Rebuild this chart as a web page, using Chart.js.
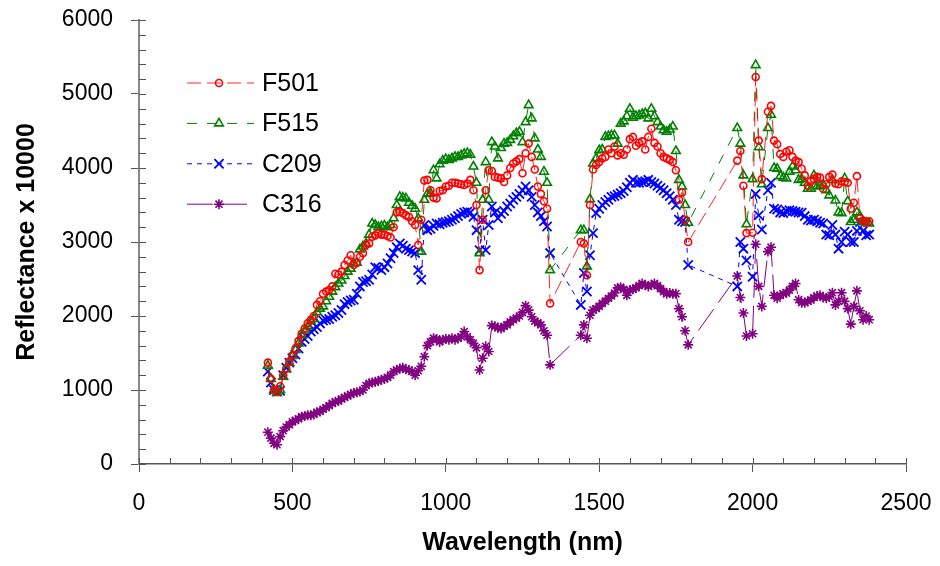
<!DOCTYPE html>
<html>
<head>
<meta charset="utf-8">
<script src="https://cdn.jsdelivr.net/npm/chart.js@4/dist/chart.umd.min.js"></script>
<style>
  html, body { margin: 0; padding: 0; background: #fff; }
  #wrap { width: 940px; height: 566px; }
</style>
</head>
<body>
<div id="wrap"><canvas id="spectra" width="940" height="566"></canvas></div>
<script>
// Wavelengths (nm), water absorption bands removed
const wlVisNir = [420,430,440,450,460,470,480,490,500,510,
  520,530,540,550,560,570,580,590,600,610,
  620,630,640,650,660,670,680,690,700,710,
  720,730,740,750,760,770,780,790,800,810,
  820,830,840,850,860,870,880,890,900,910,
  920,930,940,950,960,970,980,990,1000,1010,
  1020,1030,1040,1050,1060,1070,1080,1090,1100,1110,
  1120,1130,1140,1150,1160,1170,1180,1190,1200,1210,
  1220,1230,1240,1250,1260,1270,1280,1290,1300,1310,
  1320,1330,1340];
const wlSwir1 = [1440,1450,1460,1470,1480,1490,1500,1510,1520,1530,
  1540,1550,1560,1570,1580,1590,1600,1610,1620,1630,
  1640,1650,1660,1670,1680,1690,1700,1710,1720,1730,
  1740,1750,1760,1770,1780,1790];
const wlSwir2 = [1950,1960,1970,1980,2000,2010,2020,2030,
  2050,2060,2070,2080,2090,2100,2110,2120,2130,2140,
  2150,2160,2170,2180,2190,2200,2210,2220,2230,2240,
  2250,2260,2270,2280,2290,2300,2310,2320,2330,2340,
  2350,2360,2370,2380];

// Reflectance x 10000
const f501 = [1370,1150,1000,980,1050,1200,1290,1380,1470,1560,
  1660,1760,1830,1900,1950,2000,2150,2200,2300,2330,
  2350,2400,2570,2560,2600,2690,2750,2820,2690,2720,
  2800,2850,2960,2980,3070,3090,3120,3100,3100,3080,
  3060,3200,3400,3410,3390,3360,3340,3280,3230,2960,
  3300,3830,3840,3700,3600,3590,3690,3700,3750,3760,
  3800,3800,3790,3780,3770,3790,3840,3700,3500,2620,
  3300,3700,3970,3960,3880,3870,3860,3810,3900,4000,
  4060,4090,4120,3930,4200,4330,4150,3980,3750,3650,
  3550,3450,2170,
  3000,2980,2550,3500,3980,4040,4080,4130,4150,4250,
  4200,4290,4170,4200,4180,4250,4390,4420,4300,4340,
  4360,4250,4420,4530,4340,4290,4200,4150,4130,4110,
  4080,3970,3570,3670,3300,3000,
  4100,4230,3760,3120,3125,5230,4370,3850,
  4760,4840,4370,4320,4190,4150,4220,4240,4150,4100,
  4080,3990,3900,3760,3820,3850,3880,3870,3720,3780,
  3880,3910,3790,3780,3820,3810,3800,3450,3530,3890,
  3320,3290,3270,3280];

const f515 = [1330,1150,1000,960,1000,1180,1280,1370,1460,1540,
  1630,1740,1800,1860,1930,1960,2050,2100,2130,2200,
  2260,2330,2390,2440,2480,2540,2600,2640,2710,2720,
  2900,2940,2980,3100,3250,3230,3200,3210,3220,3200,
  3230,3320,3500,3610,3600,3590,3530,3490,3450,3320,
  2870,3570,3650,3660,3970,3860,4050,4100,4120,4110,
  4130,4150,4150,4170,4190,4200,4180,4020,3800,2850,
  3570,4080,3570,4350,4290,4130,4270,4330,4340,4380,
  4430,4470,4490,4350,4620,4850,4670,4400,4250,4150,
  3950,3800,2620,
  3160,3160,2670,3580,4060,4130,4240,4250,4420,4430,
  4440,4440,4330,4600,4630,4700,4800,4680,4700,4710,
  4730,4740,4670,4800,4700,4620,4560,4510,4490,4520,
  4560,4230,3840,3750,3500,3260,
  4540,4330,3900,3240,3850,5390,4280,3780,
  4540,4720,4000,3990,3890,3870,3860,3950,4020,3970,
  3840,3850,3800,3720,3720,3900,3750,3760,3770,3700,
  3630,3840,3560,3400,3390,3860,3550,3270,3300,3400,
  3350,3270,3260,3250];

const c209 = [1250,1100,1000,980,990,1200,1300,1370,1430,1480,
  1560,1650,1690,1730,1790,1820,1850,1900,1940,1950,
  1960,1990,2010,2040,2080,2160,2190,2210,2220,2300,
  2400,2460,2470,2490,2560,2660,2650,2620,2660,2710,
  2780,2850,2930,2980,2950,2910,2890,2870,2850,2620,
  2490,3230,3160,3180,3220,3250,3240,3260,3270,3280,
  3300,3320,3350,3380,3400,3410,3400,3340,3160,2890,
  3300,2890,3230,3480,3400,3320,3380,3420,3480,3520,
  3570,3610,3650,3700,3750,3700,3610,3500,3400,3350,
  3280,3210,2850,
  2150,2580,2330,2820,3120,3390,3450,3500,3540,3570,
  3610,3620,3640,3660,3690,3740,3800,3840,3800,3800,
  3810,3820,3840,3810,3790,3760,3730,3700,3660,3620,
  3570,3500,3300,3280,3270,2690,
  2400,3000,2910,2750,2530,3650,3360,3170,
  3700,3800,3450,3440,3400,3390,3420,3430,3420,3410,
  3400,3395,3350,3300,3290,3300,3280,3260,3250,3100,
  3090,3230,3100,2910,3000,3140,3100,3000,3000,3150,
  3270,3150,3090,3100];

const c316 = [430,350,280,260,370,450,500,530,570,590,
  610,640,650,660,660,670,700,710,740,760,
  790,820,840,850,880,900,920,940,960,970,
  980,1000,1060,1090,1100,1110,1120,1140,1150,1170,
  1200,1250,1270,1290,1300,1280,1270,1250,1200,1260,
  1320,1450,1600,1650,1700,1690,1650,1680,1690,1680,
  1700,1680,1700,1720,1790,1720,1680,1630,1570,1270,
  1430,1590,1520,1870,1860,1840,1830,1860,1880,1920,
  1950,1970,2000,2050,2140,2080,1990,1930,1910,1880,
  1800,1740,1340,
  1740,1880,1700,2010,2080,2100,2130,2170,2200,2240,
  2270,2310,2380,2390,2360,2280,2350,2360,2380,2410,
  2440,2420,2400,2420,2440,2410,2370,2330,2300,2310,
  2300,2300,2100,1990,1800,1610,
  2540,2250,2040,1730,1760,2970,2400,2130,
  2870,2930,2280,2240,2280,2300,2310,2350,2400,2440,
  2220,2180,2180,2200,2215,2250,2270,2280,2250,2240,
  2260,2315,2150,2200,2315,2200,2100,1890,2130,2340,
  2070,1950,2000,1950];

const wavelengths = [...wlVisNir, ...wlSwir1, ...wlSwir2];
const toPoints = vals => wavelengths.map((w, i) => ({ x: w, y: vals[i] }));

const FONT = '"Liberation Sans", Arial, sans-serif';

const datasets = [
  {
    label: 'F501', data: toPoints(f501),
    borderColor: 'rgba(255, 0, 0, 0.85)', borderWidth: 1, borderDash: [14, 6],
    pointStyle: 'circle', pointRadius: 3.5, pointBorderWidth: 1.6,
    pointBorderColor: '#ff0000', pointBackgroundColor: 'rgba(255,255,255,0)',
  },
  {
    label: 'F515', data: toPoints(f515),
    borderColor: '#008000', borderWidth: 1, borderDash: [10, 10],
    pointStyle: 'triangle', pointRadius: 5, pointBorderWidth: 1.6,
    pointBorderColor: '#008000', pointBackgroundColor: 'rgba(255,255,255,0)',
  },
  {
    label: 'C209', data: toPoints(c209),
    borderColor: '#0000ff', borderWidth: 1, borderDash: [5, 5],
    pointStyle: 'crossRot', pointRadius: 6.5, pointBorderWidth: 1.8,
    pointBorderColor: '#0000ff', pointBackgroundColor: '#0000ff',
  },
  {
    label: 'C316', data: toPoints(c316),
    borderColor: '#800080', borderWidth: 1, borderDash: [26, 8],
    pointStyle: 'star', pointRadius: 5, pointBorderWidth: 1.6,
    pointBorderColor: '#800080', pointBackgroundColor: '#800080',
  },
];

// minor ticks pointing into the plot area
const minorTicks = {
  id: 'minorTicks',
  afterDraw(chart) {
    const { ctx, chartArea, scales: { x, y } } = chart;
    ctx.save();
    ctx.strokeStyle = '#555';
    ctx.lineWidth = 1;
    ctx.beginPath();
    for (let v = 0; v <= 2500; v += 100) {
      const px = Math.round(x.getPixelForValue(v)) + 0.5;
      ctx.moveTo(px, chartArea.bottom);
      ctx.lineTo(px, chartArea.bottom - 6);
    }
    for (let v = 0; v <= 6000; v += 200) {
      const py = Math.round(y.getPixelForValue(v)) + 0.5;
      ctx.moveTo(chartArea.left, py);
      ctx.lineTo(chartArea.left + 7, py);
    }
    ctx.stroke();
    ctx.restore();
  }
};

// legend drawn inside the plot, top left
const insideLegend = {
  id: 'insideLegend',
  afterDraw(chart) {
    const ctx = chart.ctx;
    const x0 = 187, x1 = 254, xm = 219, xt = 262;
    const y0 = 83, dy = 40.4;
    chart.data.datasets.forEach((ds, i) => {
      const yy = y0 + i * dy;
      ctx.save();
      ctx.strokeStyle = ds.borderColor;
      ctx.lineWidth = ds.borderWidth;
      ctx.setLineDash(ds.borderDash);
      ctx.beginPath();
      ctx.moveTo(x0, yy);
      ctx.lineTo(x1, yy);
      ctx.stroke();
      ctx.setLineDash([]);
      ctx.strokeStyle = ds.pointBorderColor;
      ctx.fillStyle = ds.pointBackgroundColor;
      ctx.lineWidth = ds.pointBorderWidth;
      Chart.helpers.drawPoint(ctx, {
        pointStyle: ds.pointStyle, radius: ds.pointRadius,
        borderWidth: ds.pointBorderWidth, rotation: 0
      }, xm, yy);
      ctx.fillStyle = '#000';
      ctx.font = '25px ' + FONT;
      ctx.textAlign = 'left';
      ctx.textBaseline = 'middle';
      ctx.fillText(ds.label, xt, yy + 1);
      ctx.restore();
    });
  }
};

new Chart(document.getElementById('spectra'), {
  type: 'scatter',
  data: { datasets: datasets },
  options: {
    responsive: false,
    animation: false,
    devicePixelRatio: 1,
    showLine: true,
    layout: { padding: { top: 20, right: 34, left: 0, bottom: 0 } },
    plugins: { legend: { display: false }, tooltip: { enabled: false } },
    scales: {
      x: {
        type: 'linear', min: 0, max: 2500,
        afterFit: s => { s.height = 102; s.paddingLeft = 0; s.paddingRight = 0; },
        ticks: {
          stepSize: 500, padding: 18, color: '#000',
          font: { family: FONT, size: 23 },
          callback: v => String(v),
        },
        grid: { drawOnChartArea: false, tickLength: 8, color: '#555' },
        border: { color: '#555', width: 1.5 },
        title: {
          display: true, text: 'Wavelength (nm)', color: '#000',
          font: { family: FONT, size: 25, weight: 'bold' },
          padding: { top: 0, bottom: 8 },
        },
      },
      y: {
        type: 'linear', min: 0, max: 6000,
        afterFit: s => { s.width = 139; s.paddingTop = 0; s.paddingBottom = 0; },
        ticks: {
          stepSize: 1000, padding: 18, color: '#000',
          font: { family: FONT, size: 23 },
          callback: v => String(v),
        },
        grid: { drawOnChartArea: false, tickLength: 8, color: '#555' },
        border: { color: '#888', width: 2 },
        title: {
          display: true, text: 'Reflectance x 10000', color: '#000',
          font: { family: FONT, size: 25, weight: 'bold' },
          padding: { top: 12, bottom: 0 },
        },
      },
    },
  },
  plugins: [minorTicks, insideLegend],
});
</script>
</body>
</html>
